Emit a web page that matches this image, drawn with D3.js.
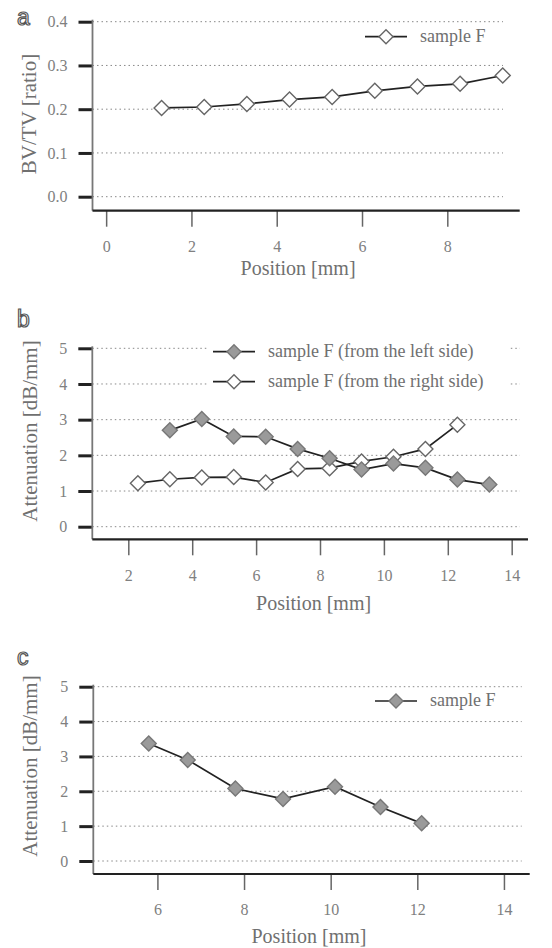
<!DOCTYPE html>
<html>
<head>
    <meta charset="utf-8" />
    <script src="https://d3js.org/d3.v7.min.js"></script>
    <title></title>
    <style>
        body { margin: 0; background: #fff; }
    </style>
</head>
<body>
    <svg id="fig"></svg>
    <script type="text/javascript">
        // panel a - BV/TV
        var posA = [1.3, 2.3, 3.3, 4.3, 5.3, 6.3, 7.3, 8.3, 9.3];
        var bvtvA = [0.203, 0.205, 0.212, 0.222, 0.228, 0.242, 0.252, 0.258, 0.277];
        var xTicksA = [0, 2, 4, 6, 8];
        var yTicksA = [0.0, 0.1, 0.2, 0.3, 0.4];

        // panel b - attenuation from both sides
        var posLeftB = [3.3, 4.3, 5.3, 6.3, 7.3, 8.3, 9.3, 10.3, 11.3, 12.3, 13.3];
        var leftB = [2.70, 3.02, 2.53, 2.52, 2.18, 1.92, 1.60, 1.77, 1.65, 1.32, 1.18];
        var posRightB = [2.3, 3.3, 4.3, 5.3, 6.3, 7.3, 8.3, 9.3, 10.3, 11.3, 12.3];
        var rightB = [1.22, 1.33, 1.38, 1.39, 1.24, 1.62, 1.64, 1.83, 1.96, 2.18, 2.86];
        var xTicksB = [2, 4, 6, 8, 10, 12, 14];
        var yTicksB = [0, 1, 2, 3, 4, 5];

        // panel c
        var posC = [5.8, 6.7, 7.8, 8.9, 10.1, 11.15, 12.1];
        var attC = [3.37, 2.90, 2.08, 1.78, 2.13, 1.55, 1.08];
        var xTicksC = [6, 8, 10, 12, 14];
        var yTicksC = [0, 1, 2, 3, 4, 5];

        var W = 552, H = 948;
        var serif = '"Liberation Serif", "DejaVu Serif", serif';
        var svg = d3.select('#fig').attr('width', W).attr('height', H)
            .attr('font-family', serif);

        function diamond(r) {
            return 'M0,' + (-r) + 'L' + r + ',0L0,' + r + 'L' + (-r) + ',0Z';
        }

        function drawMarkers(g, xs, ys, x, y, filled) {
            g.selectAll(null).data(xs).enter().append('path')
                .attr('d', diamond(7.5))
                .attr('transform', function (d, i) { return 'translate(' + x(d) + ',' + y(ys[i]) + ')'; })
                .attr('fill', filled ? '#9a9a9a' : '#fff')
                .attr('stroke', filled ? '#777' : '#666')
                .attr('stroke-width', 1.4);
        }

        function drawLine(g, xs, ys, x, y) {
            var line = d3.line().x(function (d) { return x(d[0]); }).y(function (d) { return y(d[1]); });
            g.append('path')
                .datum(xs.map(function (d, i) { return [d, ys[i]]; }))
                .attr('d', line)
                .attr('fill', 'none')
                .attr('stroke', '#222')
                .attr('stroke-width', 1.7);
        }

        function panel(p) {
            var g = svg.append('g');
            var x = d3.scaleLinear().domain(p.xDom).range([p.left, p.right]);
            var y = d3.scaleLinear().domain([p.yTicks[0], p.yTicks[p.yTicks.length - 1]]).range(p.yRange);

            // dotted grid
            g.selectAll(null).data(p.yTicks).enter().append('line')
                .attr('x1', p.left).attr('x2', p.gridEnd)
                .attr('y1', function (d) { return y(d); }).attr('y2', function (d) { return y(d); })
                .attr('stroke', '#888').attr('stroke-width', 1)
                .attr('stroke-dasharray', '1.5,3');

            // y axis ticks + labels
            var ya = g.append('g').attr('transform', 'translate(' + p.left + ',0)')
                .call(d3.axisLeft(y).tickValues(p.yTicks).tickSize(14).tickPadding(11).tickFormat(p.yFmt));
            ya.attr('font-family', serif).attr('font-size', 16);
            ya.select('.domain').remove();
            ya.selectAll('line').attr('stroke', '#222').attr('stroke-width', 3);
            ya.selectAll('text').attr('fill', '#808080');

            // x axis ticks + labels
            var xa = g.append('g').attr('transform', 'translate(0,' + p.axisY + ')')
                .call(d3.axisBottom(x).tickValues(p.xTicks).tickSize(16).tickPadding(14).tickFormat(d3.format('d')));
            xa.attr('font-family', serif).attr('font-size', 16);
            xa.select('.domain').remove();
            xa.selectAll('line').attr('stroke', '#666').attr('stroke-width', 1.5);
            xa.selectAll('text').attr('fill', '#808080');

            // axis lines
            g.append('line').attr('x1', p.left).attr('x2', p.left)
                .attr('y1', p.yRange[1] - 2).attr('y2', p.axisY)
                .attr('stroke', '#777').attr('stroke-width', 1.8);
            g.append('line').attr('x1', p.left).attr('x2', p.right + 8)
                .attr('y1', p.axisY).attr('y2', p.axisY)
                .attr('stroke', '#222').attr('stroke-width', 2.2);

            // titles
            g.append('text').attr('x', x(p.xTitleAt)).attr('y', p.axisY + p.xTitleDy)
                .attr('text-anchor', 'middle').attr('font-size', 20).attr('fill', '#707070')
                .text('Position [mm]');
            g.append('text')
                .attr('transform', 'translate(' + p.yTitleX + ',' + p.yTitleY + ') rotate(-90)')
                .attr('text-anchor', 'middle').attr('font-size', 21).attr('fill', '#707070')
                .text(p.yTitle);
            g.append('text').attr('x', 17).attr('y', p.letterY)
                .attr('font-family', '"Liberation Sans", Arial, sans-serif')
                .attr('fill', '#fff').attr('stroke', '#555').attr('stroke-width', 1.2)
                .attr('font-size', 23).text(p.letter);

            return { g: g, x: x, y: y };
        }

        function legendEntry(g, lx, ly, label, filled) {
            g.append('line').attr('x1', lx).attr('x2', lx + 42).attr('y1', ly).attr('y2', ly)
                .attr('stroke', '#222').attr('stroke-width', 1.7);
            g.append('path').attr('d', diamond(7))
                .attr('transform', 'translate(' + (lx + 21) + ',' + ly + ')')
                .attr('fill', filled ? '#9a9a9a' : '#fff')
                .attr('stroke', filled ? '#777' : '#666').attr('stroke-width', 1.4);
            g.append('text').attr('x', lx + 55).attr('y', ly + 5)
                .attr('font-size', 18).attr('fill', '#707070').text(label);
        }

        // a
        var pa = panel({
            xDom: [-0.32, 9.51], left: 92.5, right: 511.7, gridEnd: 503,
            yTicks: yTicksA, yRange: [196.7, 21.7], yFmt: d3.format('.1f'),
            xTicks: xTicksA, axisY: 210.7, xTitleDy: 64, xTitleAt: 4.5,
            yTitle: 'BV/TV [ratio]', yTitleX: 36, yTitleY: 114,
            letter: 'a', letterY: 25
        });
        drawLine(pa.g, posA, bvtvA, pa.x, pa.y);
        drawMarkers(pa.g, posA, bvtvA, pa.x, pa.y, false);
        legendEntry(pa.g, 365, 36.7, 'sample F', false);

        // b
        var pb = panel({
            xDom: [0.873, 14.26], left: 92.3, right: 520, gridEnd: 520,
            yTicks: yTicksB, yRange: [526.7, 348.3], yFmt: d3.format('d'),
            xTicks: xTicksB, axisY: 539.3, xTitleDy: 71, xTitleAt: 7.8,
            yTitle: 'Attenuation [dB/mm]', yTitleX: 37, yTitleY: 431,
            letter: 'b', letterY: 327
        });
        pb.g.append('rect').attr('x', 208).attr('y', 336).attr('width', 300).attr('height', 60).attr('fill', '#fff');
        drawLine(pb.g, posRightB, rightB, pb.x, pb.y);
        drawLine(pb.g, posLeftB, leftB, pb.x, pb.y);
        drawMarkers(pb.g, posRightB, rightB, pb.x, pb.y, false);
        drawMarkers(pb.g, posLeftB, leftB, pb.x, pb.y, true);
        legendEntry(pb.g, 213, 351.7, 'sample F (from the left side)', true);
        legendEntry(pb.g, 213, 381.7, 'sample F (from the right side)', false);

        // c
        var pc = panel({
            xDom: [4.52, 14.41], left: 93.3, right: 521.7, gridEnd: 521.7,
            yTicks: yTicksC, yRange: [861, 686.7], yFmt: d3.format('d'),
            xTicks: xTicksC, axisY: 874, xTitleDy: 69, xTitleAt: 9.5,
            yTitle: 'Attenuation [dB/mm]', yTitleX: 37, yTitleY: 766,
            letter: 'c', letterY: 665
        });
        drawLine(pc.g, posC, attC, pc.x, pc.y);
        drawMarkers(pc.g, posC, attC, pc.x, pc.y, true);
        legendEntry(pc.g, 375, 701, 'sample F', true);
    </script>
</body>
</html>
